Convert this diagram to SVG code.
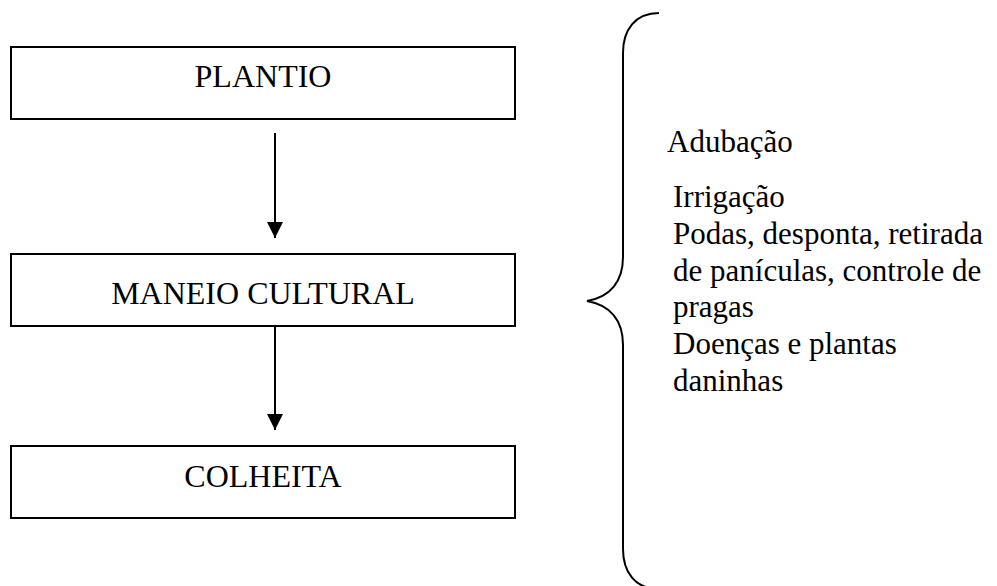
<svg xmlns="http://www.w3.org/2000/svg" width="997" height="586" viewBox="0 0 997 586">
<style>
.box{fill:#fff;stroke:#000;stroke-width:2}
.lbl{font-family:"Liberation Serif","Times New Roman",serif;font-size:32px;fill:#000}
.note{font-family:"Liberation Serif","Times New Roman",serif;font-size:31px;fill:#000}
.edge{stroke:#000;stroke-width:2;fill:none}
</style>
<defs>
<marker id="ah" markerUnits="userSpaceOnUse" markerWidth="16" markerHeight="16" refX="16" refY="8" orient="auto">
<path d="M0,0 L16,8 L0,16 Z" fill="#000"/>
</marker>
</defs>
<rect width="997" height="586" fill="#fff"/>
<g id="plantio">
<rect class="box" x="11" y="47" width="504" height="72"/>
<text class="lbl" x="263" y="87" text-anchor="middle">PLANTIO</text>
</g>
<g id="maneio">
<rect class="box" x="11" y="254" width="504" height="72"/>
<text class="lbl" x="263" y="304" text-anchor="middle">MANEIO CULTURAL</text>
</g>
<g id="colheita">
<rect class="box" x="11" y="446" width="504" height="72"/>
<text class="lbl" x="263" y="487" text-anchor="middle">COLHEITA</text>
</g>
<g id="connectors">
<line class="edge" x1="275" y1="133" x2="275" y2="238" marker-end="url(#ah)"/>
<line class="edge" x1="275" y1="327" x2="275" y2="430" marker-end="url(#ah)"/>
</g>
<g id="brace">
<path class="edge" d="M659,13 C635,13 623,30 623,53 L623,257 C623,282 610,297 587,301 C610,305 623,320 623,345 L623,549 C623,572 635,589 659,589"/>
</g>
<g id="notes">
<text class="note" x="667" y="152">Adubação</text>
<text class="note" x="673" y="207">Irrigação</text>
<text class="note" x="673" y="244">Podas, desponta, retirada</text>
<text class="note" x="673" y="281">de panículas, controle de</text>
<text class="note" x="673" y="317">pragas</text>
<text class="note" x="673" y="354">Doenças e plantas</text>
<text class="note" x="673" y="391">daninhas</text>
</g>
</svg>
